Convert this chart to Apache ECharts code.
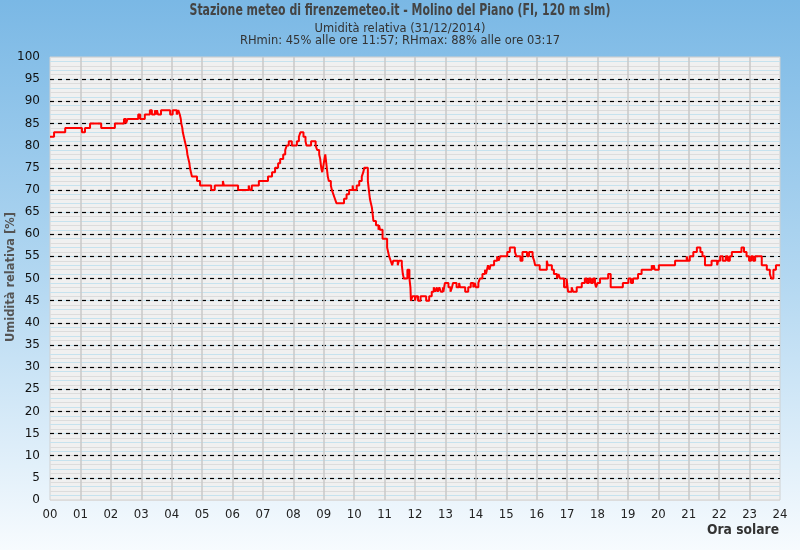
<!DOCTYPE html>
<html><head><meta charset="utf-8">
<script src="https://cdn.jsdelivr.net/npm/echarts@6/dist/echarts.min.js"></script>
<style>html,body{margin:0;padding:0;background:#fff}#c{width:800px;height:550px;}</style>
</head><body><div id="c"></div>
<script>
const titleText = 'Stazione meteo di firenzemeteo.it - Molino del Piano (FI, 120 m slm)';
const subLine1 = 'Umidità relativa (31/12/2014)';
const subLine2 = 'RHmin: 45% alle ore 11:57; RHmax: 88% alle ore 03:17';
const yName = 'Umidità relativa [%]';
const xName = 'Ora solare';
const hourLabels = ['00','01','02','03','04','05','06','07','08','09','10','11','12','13','14','15','16','17','18','19','20','21','22','23','24'];
// minutes since midnight at which the reading changes
const minutes = [0,8,30,63,69,79,101,128,146,150,153,174,178,187,197,201,207,209,211,213,219,237,242,250,253,256,258,259,261,262,264,266,268,270,271,273,275,276,278,280,290,296,318,325,341,343,371,392,394,398,412,430,438,444,450,454,460,464,467,471,477,487,491,494,500,504,506,515,524,527,531,533,534,535,537,540,543,546,548,550,554,556,559,562,565,580,585,590,597,598,605,610,615,618,620,627,629,631,633,635,636,637,638,643,648,649,651,656,665,667,669,672,675,677,686,688,694,696,698,705,709,711,712,715,720,722,726,731,742,748,753,757,760,763,765,768,771,775,776,779,786,790,793,795,802,807,809,819,825,830,835,838,840,845,848,853,858,860,862,864,867,869,876,882,885,888,902,907,917,920,928,932,941,945,952,955,957,966,980,982,990,994,1000,1003,1006,1014,1019,1022,1029,1032,1039,1049,1055,1059,1063,1067,1071,1075,1077,1080,1085,1101,1106,1130,1141,1146,1150,1160,1167,1187,1189,1191,1193,1201,1233,1256,1258,1262,1269,1276,1283,1287,1292,1305,1316,1318,1322,1327,1333,1337,1341,1345,1364,1369,1374,1379,1383,1387,1391,1404,1414,1420,1423,1427,1432,1440];
// relative humidity [%]
const rh = [82,83,84,83,84,85,84,85,86,85,86,87,86,87,88,87,88,87,88,87,88,87,88,87,88,87,86,85,84,83,82,81,80,79,78,77,76,75,74,73,72,71,70,71,72,71,70,71,70,71,72,73,74,75,76,77,78,79,80,81,80,81,82,83,82,81,80,81,80,79,78,77,76,75,74,76,78,75,73,72,71,70,69,68,67,68,69,70,71,70,71,72,73,74,75,72,70,68,67,66,65,64,63,62,61,62,61,59,57,56,55,54,53,54,53,54,53,51,50,52,50,48,45,46,45,46,45,46,45,46,47,48,47,48,47,48,47,48,47,49,48,47,48,49,48,49,48,47,48,49,48,49,48,49,50,51,52,51,52,53,52,53,54,55,54,55,56,57,56,55,54,56,55,56,55,54,53,52,54,53,52,51,50,51,50,48,50,47,48,47,48,49,50,49,50,49,50,49,48,49,50,51,48,49,50,49,50,51,52,53,52,53,52,53,54,55,54,55,56,57,56,55,53,54,53,54,55,54,55,54,55,56,57,56,55,54,55,54,55,53,52,51,50,52,53,53];

const data = minutes.map((m, i) => [m, rh[i]]);

const narrow = '"Liberation Sans Narrow", "DejaVu Sans Condensed", "DejaVu Sans"';
const mctx = document.createElement('canvas').getContext('2d');
function fitScale(text, font, target) {
  mctx.font = font;
  return target / mctx.measureText(text).width;
}
const titleFont = 'bold 15px ' + narrow;
const titleScale = fitScale(titleText, titleFont, 421);
const xNameFont = 'bold 14px ' + narrow;
const xNameScale = fitScale(xName, xNameFont, 72);
const yNameFont = 'bold 13px ' + narrow;
const yNameScale = fitScale(yName, yNameFont, 130);

const chart = echarts.init(document.getElementById('c'), null, {renderer: 'canvas'});
chart.setOption({
  animation: false,
  backgroundColor: {type: 'linear', x: 0, y: 0, x2: 0, y2: 1, colorStops: [
    {offset: 0, color: '#7ab8e5'}, {offset: 0.5, color: '#b2d7f1'}, {offset: 1, color: '#f7fbfe'}]},
  graphic: [
    {type: 'text', x: 400, y: 11, scaleX: titleScale, style: {text: titleText, font: titleFont, fill: '#444', align: 'center', verticalAlign: 'middle'}},
    {type: 'text', x: 400, y: 29, style: {text: subLine1, font: '11.5px "DejaVu Sans"', fill: '#333', align: 'center', verticalAlign: 'middle'}},
    {type: 'text', x: 400, y: 41, style: {text: subLine2, font: '11.5px "DejaVu Sans"', fill: '#333', align: 'center', verticalAlign: 'middle'}},
    {type: 'text', x: 779, y: 530, scaleX: xNameScale, style: {text: xName, font: xNameFont, fill: '#333', align: 'right', verticalAlign: 'middle'}},
    {type: 'text', x: 11, y: 277, rotation: Math.PI / 2, scaleX: yNameScale, style: {text: yName, font: yNameFont, fill: '#555', align: 'center', verticalAlign: 'middle'}}
  ],
  grid: {left: 50, right: 20, top: 57, bottom: 50, containLabel: false, outerBoundsMode: 'none', show: true, backgroundColor: '#f0f0f0', borderColor: '#d0d0d0', borderWidth: 1},
  xAxis: {
    type: 'value', min: 0, max: 1440, interval: 60,
    axisLine: {show: false}, axisTick: {show: false},
    axisLabel: {formatter: v => hourLabels[Math.round(v / 60)], fontFamily: narrow, fontSize: 13, color: '#222', margin: 8},
    splitLine: {show: true, showMinLine: false, showMaxLine: false, lineStyle: {color: '#c8c8c8', width: 1.5}}
  },
  yAxis: [
    {type: 'value', min: 0, max: 100, interval: 1, position: 'left',
     axisLine: {show: false}, axisTick: {show: false}, axisLabel: {show: false},
     splitLine: {show: true, lineStyle: {color: ['#dcdcdc', '#c6e2ee'], width: 1}}},
    {type: 'value', min: 0, max: 100, interval: 5, position: 'left',
     axisLine: {show: false}, axisTick: {show: false},
     axisLabel: {fontFamily: 'DejaVu Sans', fontSize: 12, color: '#111', margin: 10},
     splitLine: {show: true, showMinLine: false, showMaxLine: false, lineStyle: {color: '#000', type: [4, 4], width: 1.2}}}
  ],
  series: [{
    type: 'line', yAxisIndex: 1, step: 'end', showSymbol: false, data: data,
    lineStyle: {color: '#ff0000', width: 2}, itemStyle: {color: '#ff0000'}
  }]
});
</script></body></html>
